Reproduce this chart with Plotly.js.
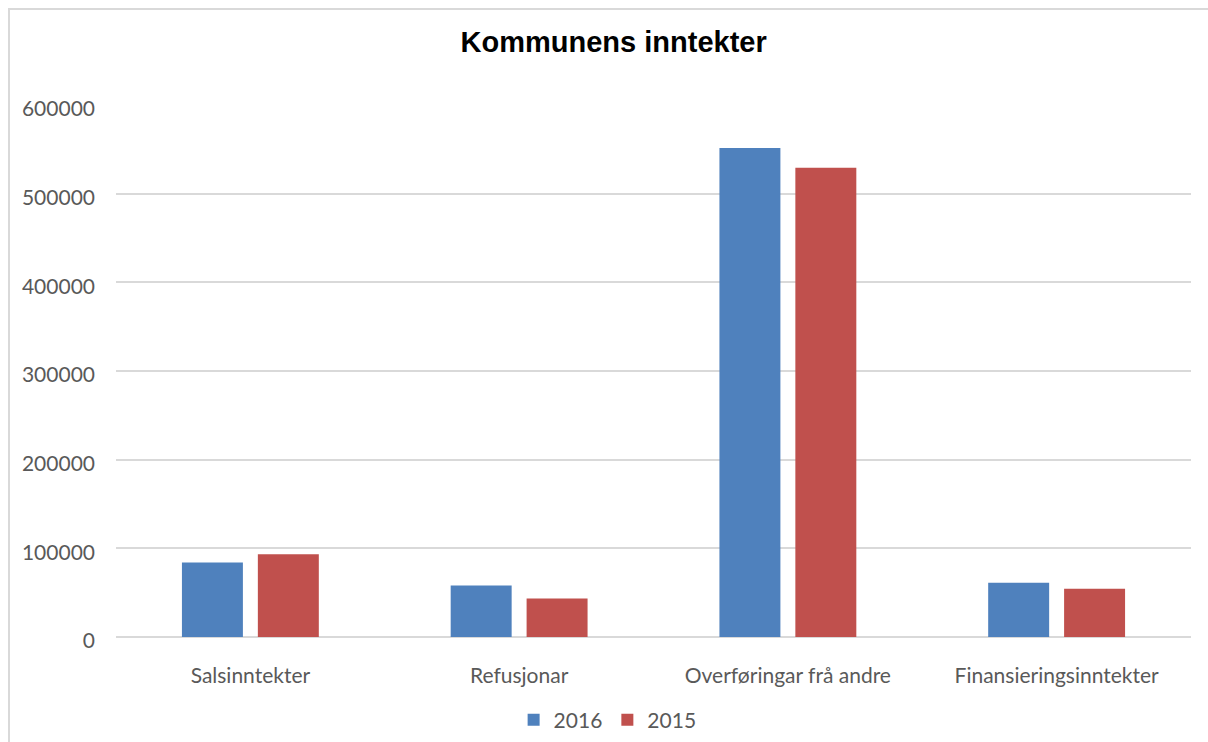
<!DOCTYPE html>
<html>
<head>
<meta charset="utf-8">
<script src="https://cdn.plot.ly/plotly-3.0.1.min.js"></script>
<style>
  html, body { margin: 0; padding: 0; background: #fff; }
  #chart { width: 1208px; height: 742px; }
  #frame { position: absolute; left: 8px; top: 8px; width: 1220px; height: 760px;
           border-left: 2px solid #d9d9d9; border-top: 2px solid #d9d9d9; pointer-events: none; }
</style>
</head>
<body>
<div id="chart"></div>
<div id="frame"></div>
<script>
const categories = ["Salsinntekter", "Refusjonar", "Overføringar frå andre", "Finansieringsinntekter"];
const values2016 = [84100, 58100, 551600, 61200];
const values2015 = [93200, 43400, 529100, 54500];
const tickValues = [0, 100000, 200000, 300000, 400000, 500000, 600000];
const tickLabels = ["0", "100000", "200000", "300000", "400000", "500000", "600000"];

const data = [
  { type: "bar", name: "2016", x: categories, y: values2016, marker: { color: "#4F81BD" }, hoverinfo: "x+y+name" },
  { type: "bar", name: "2015", x: categories, y: values2015, marker: { color: "#C0504D" }, hoverinfo: "x+y+name" }
];

const layout = {
  width: 1208, height: 742,
  paper_bgcolor: "#ffffff", plot_bgcolor: "#ffffff",
  margin: { l: 116, r: 17, t: 105, b: 105, pad: 0, autoexpand: false },
  barmode: "group",
  bargap: 0.435,
  bargroupgap: 0.197,
  font: { family: "Lato, 'Open Sans', sans-serif", size: 21, color: "#595959" },
  title: {
    text: "<b>Kommunens inntekter</b>",
    font: { family: "'Liberation Sans', Arial, sans-serif", size: 29, color: "#000000" },
    xref: "container", x: 0.508, xanchor: "center",
    yref: "container", y: 0.944, yanchor: "middle"
  },
  xaxis: {
    type: "category",
    showgrid: false,
    showline: false,
    zeroline: false,
    ticks: "",
    automargin: false,
    ticklabelstandoff: 24,
    tickfont: { family: "Lato, 'Open Sans', sans-serif", size: 21, color: "#595959" }
  },
  yaxis: {
    range: [0, 600000],
    tickmode: "array",
    tickvals: tickValues,
    ticktext: tickLabels,
    showgrid: true,
    gridcolor: "#d9d9d9",
    gridwidth: 2,
    zeroline: true,
    zerolinecolor: "#d9d9d9",
    zerolinewidth: 2,
    showline: false,
    ticks: "",
    automargin: false,
    ticklabelstandoff: 20,
    ticklabelshift: 4,
    tickfont: { family: "Lato, 'Open Sans', sans-serif", size: 21, color: "#595959" }
  },
  showlegend: true,
  legend: {
    orientation: "h",
    xref: "container", x: 0.503, xanchor: "center",
    yref: "container", y: 0.0296, yanchor: "middle",
    font: { family: "Lato, 'Open Sans', sans-serif", size: 21, color: "#595959" },
    itemclick: false, itemdoubleclick: false
  }
};

Plotly.newPlot("chart", data, layout, { displayModeBar: false });
</script>
</body>
</html>
